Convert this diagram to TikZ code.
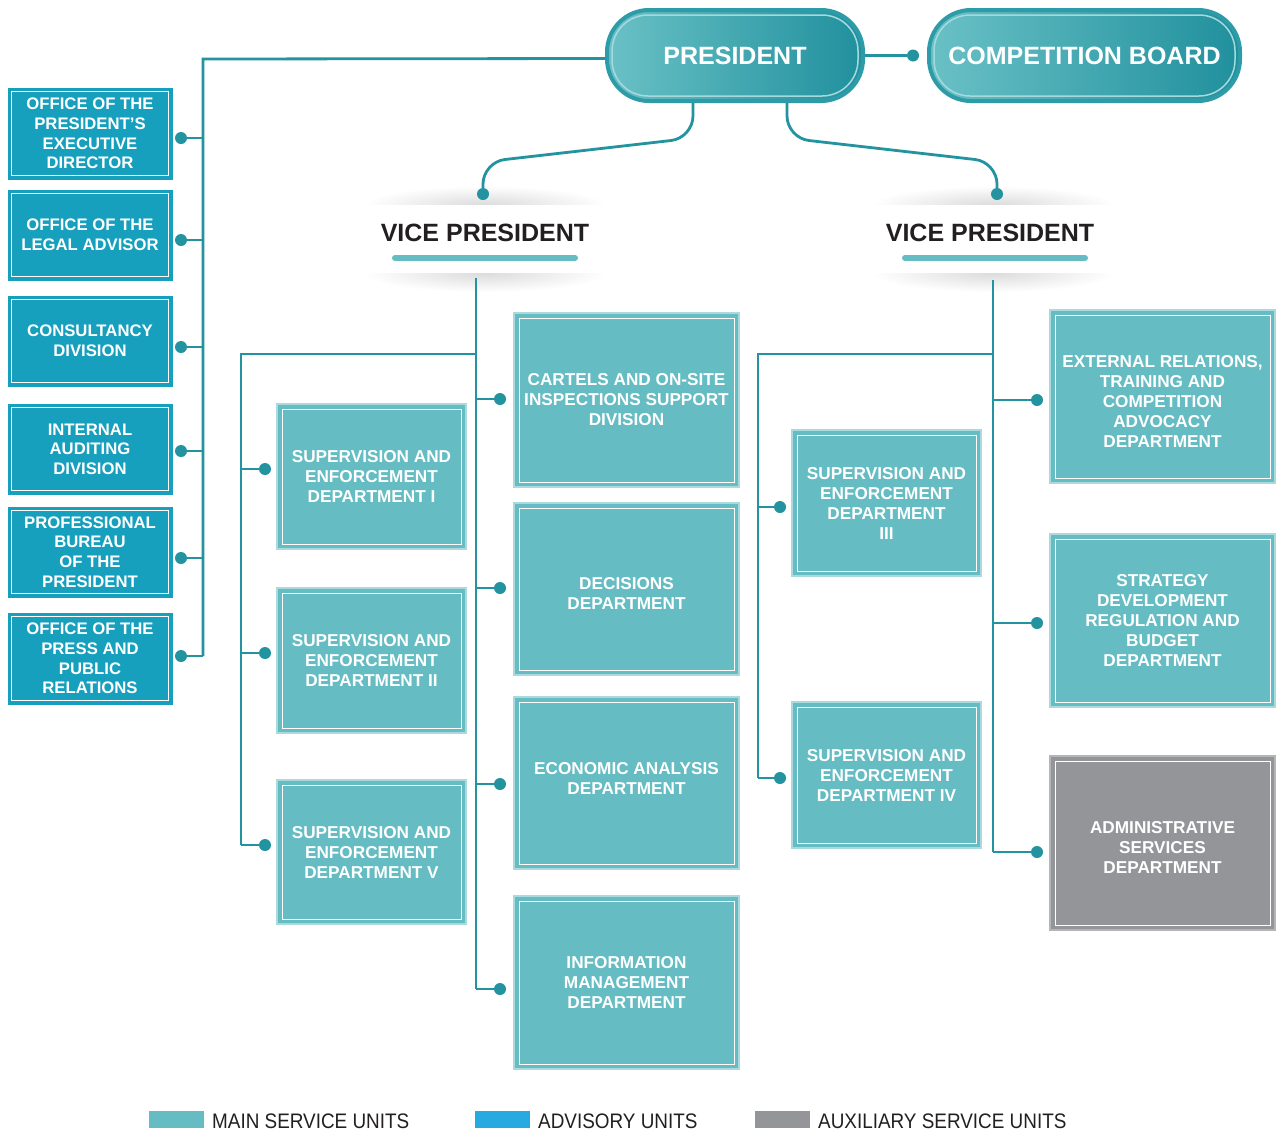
\documentclass[tikz,border=0pt]{standalone}
\usepackage{fontspec}
\setmainfont{Liberation Sans}
\newfontfamily\legendfont[FakeStretch=0.9]{Liberation Sans}
\usetikzlibrary{arrows.meta,calc}

\definecolor{mainc}{HTML}{65BCC3}
\definecolor{advc}{HTML}{17A0BE}
\definecolor{advleg}{HTML}{27A9E1}
\definecolor{auxc}{HTML}{939598}
\definecolor{linec}{HTML}{2393A0}
\definecolor{darkt}{HTML}{231F20}
\definecolor{pillL}{HTML}{6AC1C6}
\definecolor{pillR}{HTML}{20909D}
\definecolor{pillB}{HTML}{2E9CA8}

\tikzset{
  sz/.style 2 args={minimum width=#1pt, minimum height=#2pt},
  unitbox/.style={rectangle, inner sep=0pt, text=white, align=center,
    path picture={\draw[white, line width=0.9pt]
      ([xshift=#1pt,yshift=#1pt]path picture bounding box.south west) rectangle
      ([xshift=-#1pt,yshift=-#1pt]path picture bounding box.north east);}},
  mainbox/.style={unitbox=5, fill=mainc, draw=mainc!55!white, line width=1.5pt,
    font=\bfseries\fontsize{17.2}{20}\selectfont},
  auxbox/.style={unitbox=5, fill=auxc, draw=auxc!70!white, line width=1.5pt,
    font=\bfseries\fontsize{17.2}{20}\selectfont},
  advbox/.style={unitbox=3.5, fill=advc, draw=advc, line width=1pt,
    font=\bfseries\fontsize{16.7}{19.6}\selectfont},
  boxlabel/.style={text=white, align=center, inner sep=0pt,
    font=\bfseries\fontsize{17.2}{20}\selectfont},
  pill/.style={rectangle, rounded corners=42pt, minimum height=91pt,
    left color=pillL, right color=pillR, draw=pillB, line width=4pt,
    text=white, font=\bfseries\fontsize{25}{28}\selectfont,
    path picture={\draw[pillL!60!white, line width=1.5pt, rounded corners=36pt]
      ([xshift=5pt,yshift=5pt]path picture bounding box.south west) rectangle
      ([xshift=-5pt,yshift=-5pt]path picture bounding box.north east);}},
  vptext/.style={text=darkt, font=\bfseries\fontsize{25}{28}\selectfont, inner sep=0pt},
  vpbar/.style={draw=mainc, line width=6pt, line cap=round},
  dot/.style={circle, fill=linec, inner sep=0pt, minimum size=12pt},
  conn/.style={draw=linec, line width=2.8pt},
  legtext/.style={text=darkt, font=\legendfont\fontsize{21}{24}\selectfont, inner sep=0pt, anchor=base west},
}

\begin{document}
\begin{tikzpicture}[x=1pt, y=-1pt]
\useasboundingbox (0,0) rectangle (1276,1133);
\fill[white] (0,0) rectangle (1276,1133);

% VP cards with soft shadows
\foreach \cx in {485,993}{
  \shade[inner color=black!14, outer color=white] (\cx,205) ellipse (122 and 19);
  \shade[inner color=black!14, outer color=white] (\cx,273) ellipse (122 and 19);
  \fill[white] (\cx-125,205) rectangle (\cx+125,273);
}

% top pills
\node[pill, minimum width=256pt] (pres) at (735,55.5) {\raisebox{-1.5pt}{PRESIDENT}};
\node[pill, minimum width=311pt] (board) at (1084.5,55.5) {\raisebox{-1.5pt}{COMPETITION BOARD}};

% vice presidents
\node[vptext] (vp1) at (485,233) {VICE PRESIDENT};
\node[vptext] (vp2) at (990,233) {VICE PRESIDENT};
\draw[vpbar] (395,258) -- (575,258);
\draw[vpbar] (905,258) -- (1085,258);

% advisory boxes
\node[advbox, sz={164}{91}] (a1) at (90,133.5) {OFFICE OF THE\\PRESIDENT’S\\EXECUTIVE\\DIRECTOR};
\node[advbox, sz={164}{90}] (a2) at (90,235) {OFFICE OF THE\\LEGAL ADVISOR};
\node[advbox, sz={164}{90}] (a3) at (90,341) {CONSULTANCY\\DIVISION};
\node[advbox, sz={164}{90}] (a4) at (90,449) {INTERNAL\\AUDITING\\DIVISION};
\node[advbox, sz={164}{90}] (a5) at (90,552) {PROFESSIONAL\\BUREAU\\OF THE\\PRESIDENT};
\node[advbox, sz={164}{91}] (a6) at (90,658.5) {OFFICE OF THE\\PRESS AND\\PUBLIC\\RELATIONS};

% left column supervision
\node[mainbox, sz={189}{145}] (s1) at (371.5,476.5) {SUPERVISION AND\\ENFORCEMENT\\DEPARTMENT I};
\node[mainbox, sz={189}{145}] (s2) at (371.5,660.5) {SUPERVISION AND\\ENFORCEMENT\\DEPARTMENT II};
\node[mainbox, sz={189}{144}] (s5) at (371.5,852) {SUPERVISION AND\\ENFORCEMENT\\DEPARTMENT V};

% middle column
\node[mainbox, sz={225}{174}] (c1) at (626.5,400) {CARTELS AND ON-SITE\\INSPECTIONS SUPPORT\\DIVISION};
\node[mainbox, sz={225}{172}, label={[boxlabel, yshift=-4pt]center:DECISIONS\\DEPARTMENT}] (c2) at (626.5,589) {};
\node[mainbox, sz={225}{172}, label={[boxlabel, yshift=5pt]center:ECONOMIC ANALYSIS\\DEPARTMENT}] (c3) at (626.5,783) {};
\node[mainbox, sz={225}{173}] (c4) at (626.5,982.5) {INFORMATION\\MANAGEMENT\\DEPARTMENT};

% right VP supervision
\node[mainbox, sz={189}{146}] (s3) at (886.5,503) {SUPERVISION AND\\ENFORCEMENT\\DEPARTMENT\\III};
\node[mainbox, sz={189}{146}] (s4) at (886.5,775) {SUPERVISION AND\\ENFORCEMENT\\DEPARTMENT IV};

% right column
\node[mainbox, sz={225}{173}, label={[boxlabel, yshift=-4.5pt]center:EXTERNAL RELATIONS,\\TRAINING AND\\COMPETITION\\ADVOCACY\\DEPARTMENT}] (r1) at (1162.5,396.5) {};
\node[mainbox, sz={225}{173}] (r2) at (1162.5,620.5) {STRATEGY\\DEVELOPMENT\\REGULATION AND\\BUDGET\\DEPARTMENT};
\node[auxbox, sz={225}{174}, label={[boxlabel, yshift=-4pt]center:ADMINISTRATIVE\\SERVICES\\DEPARTMENT}] (r3) at (1162.5,843) {};

% dots
\node[dot] (d-a1) at (181,138) {};
\node[dot] (d-a2) at (181,240) {};
\node[dot] (d-a3) at (181,347) {};
\node[dot] (d-a4) at (181,451) {};
\node[dot] (d-a5) at (181,558) {};
\node[dot] (d-a6) at (181,656) {};
\node[dot] (d-s1) at (265,469) {};
\node[dot] (d-s2) at (265,653) {};
\node[dot] (d-s5) at (265,845) {};
\node[dot] (d-c1) at (500,399) {};
\node[dot] (d-c2) at (500,588) {};
\node[dot] (d-c3) at (500,784) {};
\node[dot] (d-c4) at (500,989) {};
\node[dot] (d-s3) at (780,507) {};
\node[dot] (d-s4) at (780,778) {};
\node[dot] (d-r1) at (1037,400) {};
\node[dot] (d-r2) at (1037,623) {};
\node[dot] (d-r3) at (1037,852) {};
\node[dot] (d-vp1) at (483,194) {};
\node[dot] (d-vp2) at (997,194) {};
\node[dot] (d-cb) at (913,55.5) {};

% junction coordinates
\coordinate (advj) at (203,59);
\coordinate (t1) at (476,278);
\coordinate (lbj) at (241,354);
\coordinate (t2) at (993,280);
\coordinate (rbj) at (758,354);

% connectors
\draw[conn] ([yshift=-3pt]pres.west) -- (advj) -- (advj |- d-a6);
\foreach \n in {a1,a2,a3,a4,a5,a6} \draw[conn] (advj |- d-\n) -- (d-\n);

\draw[conn] (t1) -- (t1 |- d-c4);
\foreach \n in {c1,c2,c3,c4} \draw[conn] (t1 |- d-\n) -- (d-\n);
\draw[conn] (t1 |- lbj) -- (lbj) -- (lbj |- d-s5);
\foreach \n in {s1,s2,s5} \draw[conn] (lbj |- d-\n) -- (d-\n);

\draw[conn] (t2) -- (t2 |- d-r3);
\foreach \n in {r1,r2,r3} \draw[conn] (t2 |- d-\n) -- (d-\n);
\draw[conn] (t2 |- rbj) -- (rbj) -- (rbj |- d-s4);
\foreach \n in {s3,s4} \draw[conn] (rbj |- d-\n) -- (d-\n);

\draw[conn] (pres.east) -- (d-cb);
\draw[conn, rounded corners=22pt] ([xshift=-42pt]pres.south) -- ++(0,35) -- ($(d-vp1)+(0,-32)$) -- (d-vp1);
\draw[conn, rounded corners=22pt] ([xshift=52pt]pres.south) -- ++(0,35) -- ($(d-vp2)+(0,-32)$) -- (d-vp2);

% legend
\fill[mainc] (149,1111) rectangle (204,1128);
\node[legtext] (l1) at (212,1128) {MAIN SERVICE UNITS};
\fill[advleg] (475,1111) rectangle (530,1128);
\node[legtext] (l2) at (538,1128) {ADVISORY UNITS};
\fill[auxc] (755,1111) rectangle (810,1128);
\node[legtext] (l3) at (818,1128) {AUXILIARY SERVICE UNITS};
\end{tikzpicture}
\end{document}
